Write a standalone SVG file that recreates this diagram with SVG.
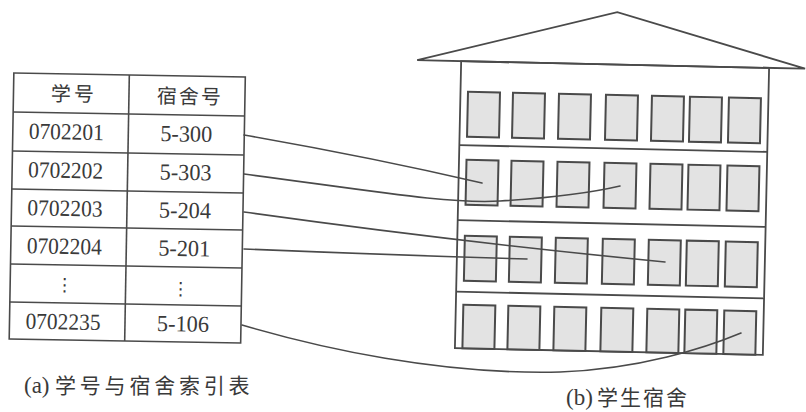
<svg xmlns="http://www.w3.org/2000/svg" width="806" height="412" viewBox="0 0 806 412">
  <style>
    .frame { fill: none; stroke: #4a4a4a; stroke-width: 1.6; }
    .wall { fill: none; stroke: #4a4a4a; stroke-width: 1.8; }
    .roof { fill: #ffffff; stroke: #4a4a4a; stroke-width: 1.8; stroke-linejoin: miter; }
    .win { fill: #e3e3e3; stroke: #4a4a4a; stroke-width: 2; }
    .link { fill: none; stroke: #4a4a4a; stroke-width: 1.6; stroke-linecap: round; }
    .cjk { font-family: "Noto Sans CJK SC", "Noto Sans", sans-serif; fill: #3a3a3a; }
    .num { font-family: "Liberation Serif", "DejaVu Serif", serif; fill: #3a3a3a; font-size: 23px; }
    .dots { font-family: "DejaVu Sans", sans-serif; fill: #3a3a3a; font-size: 18px; }
    .cap { font-family: "Liberation Serif", serif; fill: #3a3a3a; font-size: 23px; }
  </style>

  <rect width="806" height="412" fill="#ffffff"/>

  <!-- (a) index table: student number -> dorm room -->
  <g id="index-table" transform="rotate(1 127 208)">
    <rect class="frame" x="11.5" y="75" width="231.5" height="266"/>
    <line class="frame" x1="127" y1="75" x2="127" y2="341"/>
    <line class="frame" x1="11.5" y1="114" x2="243" y2="114"/>
    <line class="frame" x1="11.5" y1="153" x2="243" y2="153"/>
    <line class="frame" x1="11.5" y1="191" x2="243" y2="191"/>
    <line class="frame" x1="11.5" y1="228" x2="243" y2="228"/>
    <line class="frame" x1="11.5" y1="266" x2="243" y2="266"/>
    <line class="frame" x1="11.5" y1="304" x2="243" y2="304"/>

    <g id="row-header">
      <text class="cjk" x="72" y="102" font-size="20" letter-spacing="3" text-anchor="middle">学号</text>
      <text class="cjk" x="188" y="102.5" font-size="20" letter-spacing="2" text-anchor="middle">宿舍号</text>
    </g>
    <g id="row-0702201">
      <text class="num" x="65" y="140.5" text-anchor="middle" textLength="75" lengthAdjust="spacingAndGlyphs">0702201</text>
      <text class="num" x="185" y="140.5" text-anchor="middle" textLength="52" lengthAdjust="spacingAndGlyphs">5-300</text>
    </g>
    <g id="row-0702202">
      <text class="num" x="65" y="179" text-anchor="middle" textLength="75" lengthAdjust="spacingAndGlyphs">0702202</text>
      <text class="num" x="185" y="179" text-anchor="middle" textLength="52" lengthAdjust="spacingAndGlyphs">5-303</text>
    </g>
    <g id="row-0702203">
      <text class="num" x="65" y="217" text-anchor="middle" textLength="75" lengthAdjust="spacingAndGlyphs">0702203</text>
      <text class="num" x="185" y="217" text-anchor="middle" textLength="52" lengthAdjust="spacingAndGlyphs">5-204</text>
    </g>
    <g id="row-0702204">
      <text class="num" x="65" y="255" text-anchor="middle" textLength="75" lengthAdjust="spacingAndGlyphs">0702204</text>
      <text class="num" x="185" y="255" text-anchor="middle" textLength="52" lengthAdjust="spacingAndGlyphs">5-201</text>
    </g>
    <g id="row-ellipsis">
      <text class="dots" x="66" y="292" text-anchor="middle">⋮</text>
      <text class="dots" x="182" y="294" text-anchor="middle">⋮</text>
    </g>
    <g id="row-0702235">
      <text class="num" x="65" y="330.5" text-anchor="middle" textLength="75" lengthAdjust="spacingAndGlyphs">0702235</text>
      <text class="num" x="185" y="330.5" text-anchor="middle" textLength="52" lengthAdjust="spacingAndGlyphs">5-106</text>
    </g>
  </g>

  <!-- (b) dormitory building, four floors of seven rooms -->
  <g id="dormitory" transform="rotate(1.25 612 208)">
    <polygon class="roof" points="414,64.5 613,12 802,64.5"/>
    <rect class="wall" x="458" y="64.5" width="308" height="287"/>
    <line class="wall" x1="458" y1="148.5" x2="766" y2="148.5"/>
    <line class="wall" x1="458" y1="223.5" x2="766" y2="223.5"/>
    <line class="wall" x1="458" y1="295" x2="766" y2="295"/>

    <g id="floor-4">
      <rect class="win" x="465.5" y="95" width="32" height="45"/>
      <rect class="win" x="510.5" y="95" width="32" height="45"/>
      <rect class="win" x="556.5" y="95" width="32" height="45"/>
      <rect class="win" x="603.5" y="95" width="32" height="45"/>
      <rect class="win" x="649.5" y="95" width="32" height="45"/>
      <rect class="win" x="687.5" y="95" width="32" height="45"/>
      <rect class="win" x="726.5" y="95" width="32" height="45"/>
    </g>
    <g id="floor-3">
      <rect id="room-300" class="win" x="465.5" y="163" width="32" height="45"/>
      <rect class="win" x="510.5" y="163" width="32" height="45"/>
      <rect class="win" x="556.5" y="163" width="32" height="45"/>
      <rect id="room-303" class="win" x="603.5" y="163" width="32" height="45"/>
      <rect class="win" x="649.5" y="163" width="32" height="45"/>
      <rect class="win" x="687.5" y="163" width="32" height="45"/>
      <rect class="win" x="726.5" y="163" width="32" height="45"/>
    </g>
    <g id="floor-2">
      <rect class="win" x="465.5" y="239" width="32" height="45"/>
      <rect id="room-201" class="win" x="510.5" y="239" width="32" height="45"/>
      <rect class="win" x="556.5" y="239" width="32" height="45"/>
      <rect class="win" x="603.5" y="239" width="32" height="45"/>
      <rect id="room-204" class="win" x="649.5" y="239" width="32" height="45"/>
      <rect class="win" x="687.5" y="239" width="32" height="45"/>
      <rect class="win" x="726.5" y="239" width="32" height="45"/>
    </g>
    <g id="floor-1">
      <rect class="win" x="465.5" y="308" width="32" height="43.5"/>
      <rect class="win" x="510.5" y="308" width="32" height="43.5"/>
      <rect class="win" x="556.5" y="308" width="32" height="43.5"/>
      <rect class="win" x="603.5" y="308" width="32" height="43.5"/>
      <rect class="win" x="649.5" y="308" width="32" height="43.5"/>
      <rect class="win" x="687.5" y="308" width="32" height="43.5"/>
      <rect id="room-106" class="win" x="726.5" y="308" width="32" height="43.5"/>
    </g>
  </g>

  <!-- index entries pointing at their rooms -->
  <g id="connectors">
    <path class="link" d="M244,135 Q 370,157 482,183"/>
    <path class="link" d="M244,174 C 380,192 450,204 500,201 S 590,193 620,186"/>
    <path class="link" d="M244,212 Q 450,241 665,262"/>
    <path class="link" d="M244,249 Q 390,255 527,259"/>
    <path class="link" d="M242,325 C 320,348 440,375 560,372 C 640,369 705,348 741,333"/>
  </g>

  <!-- captions -->
  <g id="captions">
    <text x="24" y="393"><tspan class="cap">(a)</tspan><tspan class="cjk" x="55" font-size="21" letter-spacing="3.8">学号与宿舍索引表</tspan></text>
    <text x="566" y="405"><tspan class="cap">(b)</tspan><tspan class="cjk" x="597" font-size="21" letter-spacing="2">学生宿舍</tspan></text>
  </g>
</svg>
